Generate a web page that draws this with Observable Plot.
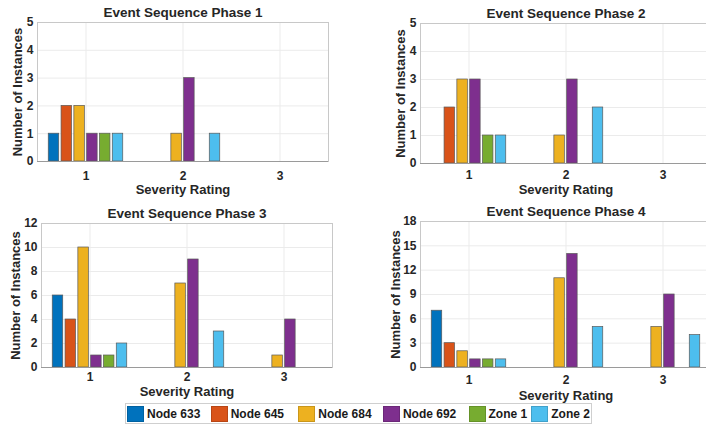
<!DOCTYPE html>
<html>
<head>
<meta charset="utf-8">
<script src="https://cdn.jsdelivr.net/npm/d3@7"></script>
<script src="https://cdn.jsdelivr.net/npm/@observablehq/plot@0.6"></script>
<style>
  html, body { margin: 0; padding: 0; background: #fff; }
  #root { position: relative; width: 706px; height: 428px; overflow: hidden; background: #fff;
          font-family: "Liberation Sans", Arial, sans-serif; }
  .panel { position: absolute; }
  .panel svg { overflow: visible; max-width: none !important; }
  #legend { position: absolute; left: 125px; top: 403px; width: 467px; height: 21px;
            border: 1px solid #cfcfcf; background: #fff; display: flex; align-items: center;
            font: bold 12px "Liberation Sans", Arial, sans-serif; color: #1a1a1a; box-sizing: border-box; }
  .item { display: flex; align-items: center; }
  .sw { width: 17px; height: 16px; margin-right: 3px; box-sizing: border-box; border: 1px solid rgba(0,0,0,0.15); }
</style>
</head>
<body>
<div id="root"></div>
<script>
const series = ["Node 633", "Node 645", "Node 684", "Node 692", "Zone 1", "Zone 2"];
const colors = ["#0072BD", "#D95319", "#EDB120", "#7E2F8E", "#77AC30", "#4DBEEE"];
const severities = [1, 2, 3];
const phaseTitles = ["Event Sequence Phase 1", "Event Sequence Phase 2", "Event Sequence Phase 3", "Event Sequence Phase 4"];
// values per severity rating (rows: severity 1, 2, 3; columns follow `series`)
const phase1 = [[1, 2, 2, 1, 1, 1], [0, 0, 1, 3, 0, 1], [0, 0, 0, 0, 0, 0]];
const phase2 = [[0, 2, 3, 3, 1, 1], [0, 0, 1, 3, 0, 2], [0, 0, 0, 0, 0, 0]];
const phase3 = [[6, 4, 10, 1, 1, 2], [0, 0, 7, 9, 0, 3], [0, 0, 1, 4, 0, 0]];
const phase4 = [[7, 3, 2, 1, 1, 1], [0, 0, 11, 14, 0, 5], [0, 0, 5, 9, 0, 4]];
const yTicks1 = [0, 1, 2, 3, 4, 5];
const yTicks2 = [0, 1, 2, 3, 4, 5];
const yTicks3 = [0, 2, 4, 6, 8, 10, 12];
const yTicks4 = [0, 3, 6, 9, 12, 15, 18];
const xLabel = "Severity Rating";
const yLabel = "Number of Instances";

const phases = [phase1, phase2, phase3, phase4];
const yTicksAll = [yTicks1, yTicks2, yTicks3, yTicks4];

// layout of each panel (pixels)
const layouts = [
  {left: 0,   top: 0,   width: 353, height: 200, ml: 37, mr: 25, mt: 22, mb: 39, xlab: 28, tickPad: 9.5, ylab: -20},
  {left: 353, top: 0,   width: 380, height: 200, ml: 67, mr: 22, mt: 23, mb: 37, xlab: 26, tickPad: 7, ylab: -20},
  {left: 0,   top: 200, width: 353, height: 200, ml: 41, mr: 21, mt: 23, mb: 33, xlab: 24, tickPad: 5, ylab: -26},
  {left: 353, top: 200, width: 380, height: 200, ml: 67, mr: 22, mt: 21, mb: 33, xlab: 28, tickPad: 8, ylab: -25}
];

const pitch = 0.132, bw = 0.108;
const root = document.getElementById("root");

phases.forEach((ph, p) => {
  const L = layouts[p];
  const yTicks = yTicksAll[p];
  const rows = [];
  ph.forEach((vals, s) => vals.forEach((v, i) => {
    if (v > 0) rows.push({sev: severities[s], si: i, name: series[i], value: v});
  }));
  const chart = Plot.plot({
    width: L.width, height: L.height,
    marginLeft: L.ml, marginRight: L.mr, marginTop: L.mt, marginBottom: L.mb,
    style: {fontFamily: "Liberation Sans, Arial, sans-serif", fontSize: "12px", fontWeight: "bold", color: "#262626", background: "white", maxWidth: "none"},
    x: {domain: [0.5, 3.5], ticks: severities, tickFormat: "d", label: null, tickSize: 0, tickPadding: L.tickPad},
    y: {domain: [yTicks[0], yTicks[yTicks.length - 1]], ticks: yTicks, tickFormat: "d", label: null, tickSize: 0, tickPadding: 4},
    color: {domain: series, range: colors},
    marks: [
      Plot.ruleX(severities, {stroke: "#ebebeb", strokeWidth: 1}),
      Plot.ruleY(yTicks, {stroke: "#ebebeb", strokeWidth: 1}),
      Plot.rect(rows, {
        x1: d => d.sev + (d.si - 2.5) * pitch - bw / 2,
        x2: d => d.sev + (d.si - 2.5) * pitch + bw / 2,
        y1: 0, y2: "value",
        fill: "name", stroke: "#5a5a5a", strokeWidth: 0.7
      }),
      Plot.frame({stroke: "#c8c8c8"}),
      Plot.ruleY([0], {stroke: "#9a9a9a"}),
      Plot.text([phaseTitles[p]], {frameAnchor: "top", dy: -10, lineAnchor: "middle", textAnchor: "middle", fontSize: 13.5, fontWeight: "bold", fill: "#262626"}),
      Plot.text([xLabel], {frameAnchor: "bottom", dy: L.xlab, lineAnchor: "middle", textAnchor: "middle", fontSize: 13, fontWeight: "bold", fill: "#262626"}),
      Plot.text([yLabel], {frameAnchor: "left", dx: L.ylab, rotate: -90, lineAnchor: "middle", textAnchor: "middle", fontSize: 13, fontWeight: "bold", fill: "#262626"})
    ]
  });
  const div = document.createElement("div");
  div.className = "panel";
  div.style.left = L.left + "px";
  div.style.top = L.top + "px";
  div.style.width = L.width + "px";
  div.style.height = L.height + "px";
  div.appendChild(chart);
  root.appendChild(div);
});

// legend
const legend = document.createElement("div");
legend.id = "legend";
const gaps = [84, 88, 85, 86, 63, 60];
series.forEach((name, i) => {
  const it = document.createElement("div");
  it.className = "item";
  it.style.width = gaps[i] + "px";
  it.style.marginLeft = i === 0 ? "1px" : "0";
  const sw = document.createElement("span");
  sw.className = "sw";
  sw.style.background = colors[i];
  const tx = document.createElement("span");
  tx.textContent = name;
  it.appendChild(sw); it.appendChild(tx);
  legend.appendChild(it);
});
root.appendChild(legend);
</script>
</body>
</html>
